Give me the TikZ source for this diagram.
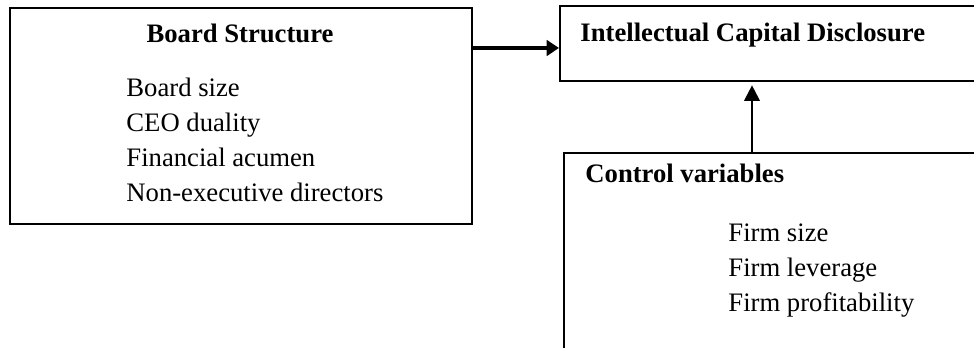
\documentclass[tikz,border=0pt]{standalone}
\usepackage{fontspec}
\setmainfont{Liberation Serif}
\usepackage{tikz}
\usetikzlibrary{arrows.meta,positioning,calc}
\tikzset{
    block/.style={
        rectangle,
        draw=black,
        line width=0.9pt,
        inner sep=0pt,
    },
    head/.style={
        anchor=base west,
        inner sep=0pt,
        font=\fontsize{12}{14}\selectfont\bfseries,
    },
    item/.style={
        anchor=base west,
        inner sep=0pt,
        font=\fontsize{12}{14}\selectfont,
    },
    flow/.style={
        draw,
        -{Triangle[length=5.6pt,width=7pt]},
        line width=1.4pt,
    },
    thinflow/.style={
        draw,
        -{Triangle[length=7pt,width=7pt]},
        line width=0.9pt,
    },
}

\begin{document}
\begin{tikzpicture}[x=0.45pt,y=-0.45pt]
                        \useasboundingbox (0,0) rectangle (974,348);
                        \clip (0,0) rectangle (974,348);
                        \node [block,anchor=north west,minimum width=207.9pt,minimum height=97.2pt] at (9,7) (board) {};
                        \node [block,anchor=north west,minimum width=198.5pt,minimum height=33.75pt] at (559,5) (icd) {};
                        \node [block,anchor=north west,minimum width=198.5pt,minimum height=99pt] at (563,152) (ctrl) {};
                        \node [head,anchor=base] at (240,43) (B0) {Board Structure};
                        \node [item] at (126,97) (B1) {Board size};
                        \node [item] at (126,132) (B2) {CEO duality};
                        \node [item] at (126,167) (B3) {Financial acumen};
                        \node [item] at (126,202) (B4) {Non-executive directors};
                        \node [head] at (580,42) (I0) {Intellectual Capital Disclosure};
                        \node [head] at (585,183) (C0) {Control variables};
                        \node [item] at (728,242) (C1) {Firm size};
                        \node [item] at (728,277) (C2) {Firm leverage};
                        \node [item] at (728,312) (C3) {Firm profitability};
                        \coordinate (A1) at ($(board.north east)+(0,41)$);
                        \coordinate (A2) at (752,0);
                        \draw[flow] (A1) -- (icd.west |- A1);
                        \draw[thinflow,shorten >=1.5pt] (ctrl.north -| A2) -- (icd.south -| A2);
                    \end{tikzpicture}
\end{document}
